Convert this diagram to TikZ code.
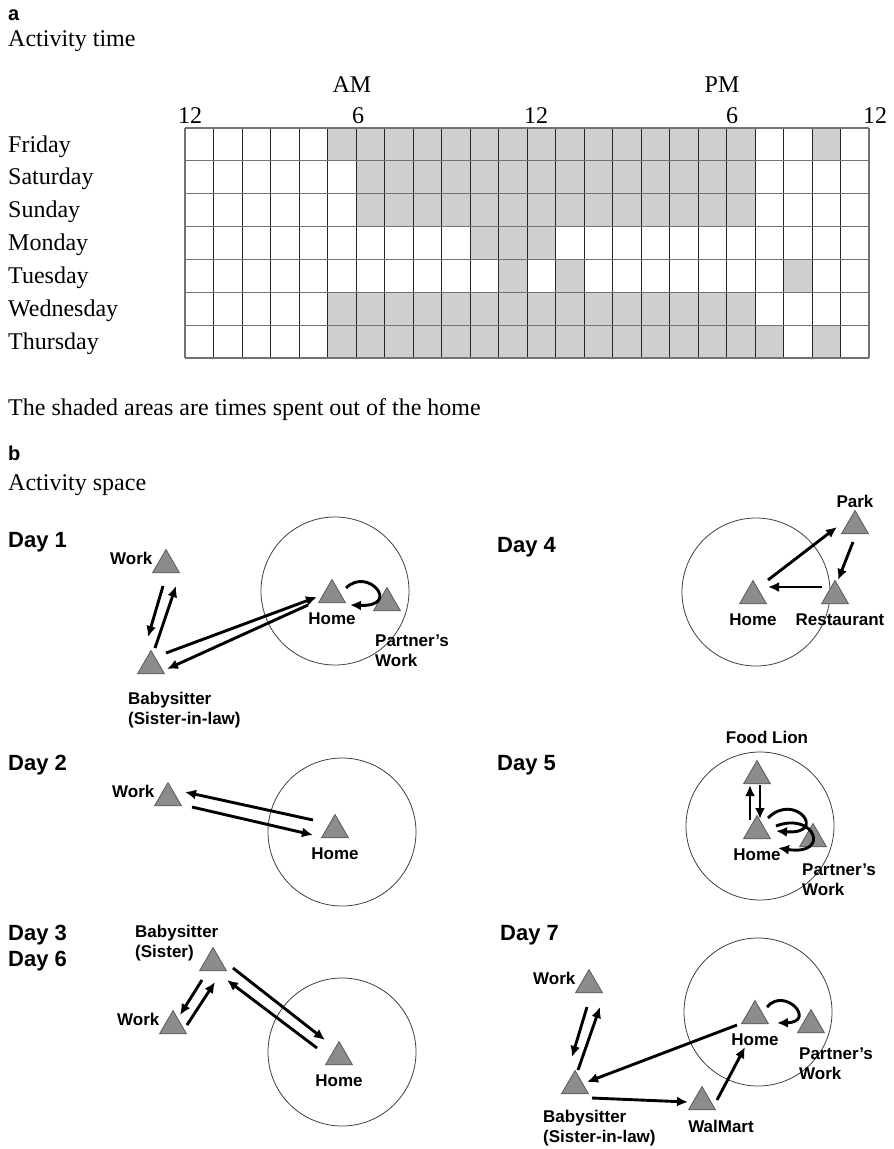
\documentclass[tikz,border=0pt]{standalone}
\usepackage{fontspec}
\setmainfont{Liberation Serif}
\setsansfont{Liberation Sans}
\usetikzlibrary{positioning,arrows.meta,shapes.geometric}

\begin{document}
\begin{tikzpicture}[
    x=1pt, y=-1pt,
    node distance=4pt,
    serif/.style={font=\fontsize{24}{28}\selectfont, inner sep=0pt},
    panel/.style={font=\sffamily\bfseries\fontsize{20}{24}\selectfont, inner sep=0pt},
    daytag/.style={font=\sffamily\bfseries\fontsize{22}{26}\selectfont, inner sep=0pt, align=left},
    lbl/.style={font=\sffamily\bfseries\fontsize{17}{20}\selectfont, inner sep=0pt, align=left},
    place/.style={
        regular polygon,
        regular polygon sides=3,
        draw=black!65,
        fill=black!45,
        minimum size=31pt,
        inner sep=0pt,
        line width=0.8pt
    },
    ring/.style={circle, draw=black!75, minimum size=148pt, inner sep=0pt, line width=0.8pt},
    trip/.style={
        -{Latex[length=11pt,width=10pt]},
        line width=2.9pt
    },
    busy/.style={fill=black!19},
    colline/.style={draw=black!85, line width=0.8pt},
    rowline/.style={draw=black!55, line width=1.2pt}
]

\path[use as bounding box, fill=white] (0,0) rectangle (894,1149);

% part a: activity time
\node[panel, anchor=base west] (pa) at (8,20) {a};
\node[serif, anchor=base west] (atime) at (8,46) {Activity time};
\node[serif, anchor=base] (am) at (352,92) {AM};
\node[serif, anchor=base] (pm) at (722,92) {PM};

\foreach \t/\x [count=\i] in {12/190, 6/358, 12/536, 6/732, 12/875}
    \node[serif, anchor=base] (tick\i) at (\x,123) {\t};

\foreach \r/\cols in {0/{5,...,19,22}, 1/{6,...,19}, 2/{6,...,19}, 3/{10,11,12},
                      4/{11,13,21}, 5/{5,...,19}, 6/{5,...,20,22}}
    \foreach \c in \cols
        \fill[busy] ({185+28.5*\c},{128+32.86*\r}) rectangle ++(28.5,32.86);

\foreach \c in {1,...,23}
    \draw[colline] ({185+28.5*\c},128) -- ++(0,230);
\foreach \r in {0,...,7}
    \draw[rowline] (185,{128+32.86*\r}) -- ++(684,0);
\draw[rowline] (185,128) -- ++(0,230) (869,128) -- ++(0,230);

\foreach \d [count=\i from 0] in {Friday,Saturday,Sunday,Monday,Tuesday,Wednesday,Thursday}
    \node[serif, anchor=base west] (row\i) at (8,{152+32.86*\i}) {\d};

\node[serif, anchor=base west] (note) at (8,415) {The shaded areas are times spent out of the home};

% part b: activity space
\node[panel, anchor=base west] (pb) at (8,460) {b};
\node[serif, anchor=base west] (aspace) at (8,490) {Activity space};

% Day 1
\node[daytag, anchor=west] (d1) at (8,542) {Day 1};
\node[ring] (c1) at (335,591) {};
\node[place] (w1) at (166,565) {};
\node[place] (b1) at (151,666) {};
\node[place] (h1) at (332,595) {};
\node[place] (p1) at (387,603) {};
\node[lbl, left=of w1, yshift=7pt] (w1l) {Work};
\node[lbl, below=9pt of h1] (h1l) {Home};
\node[lbl, anchor=north west] (b1l) at ([shift={(-23,26)}]b1.center) {Babysitter\\(Sister-in-law)};
\node[lbl, anchor=north west] (p1l) at ([shift={(-12,32)}]p1.center) {Partner’s\\Work};
\draw[trip] ([shift={(-3,21)}]w1.center) -- ([shift={(-3,-29)}]b1.center);
\draw[trip] ([shift={(4,-18)}]b1.center) -- ([shift={(10,21)}]w1.center);
\draw[trip] ([shift={(15,-13)}]b1.center) -- ([shift={(-15,2)}]h1.center);
\draw[trip] ([shift={(-24,10)}]h1.center) -- ([shift={(16,3)}]b1.center);
\draw[trip] ([shift={(14,-7)}]h1.center) .. controls ([shift={(36,-29)}]h1.center)
    and ([shift={(70,12)}]h1.center) .. ([shift={(18,10)}]h1.center);

% Day 2
\node[daytag, anchor=west] (d2) at (8,765) {Day 2};
\node[ring] (c2) at (342,832) {};
\node[place] (w2) at (168,798) {};
\node[place] (h2) at (335,830) {};
\node[lbl, left=of w2, yshift=7pt] (w2l) {Work};
\node[lbl, below=9pt of h2] (h2l) {Home};
\draw[trip] ([shift={(-22,-10)}]h2.center) -- ([shift={(17,-6)}]w2.center);
\draw[trip] ([shift={(24,9)}]w2.center) -- ([shift={(-22,5)}]h2.center);

% Day 3 and Day 6
\node[daytag, anchor=north west] (d36) at (8,925) {Day 3\\Day 6};
\node[ring] (c3) at (342,1052) {};
\node[place] (b3) at (213,963) {};
\node[place] (w3) at (173,1026) {};
\node[place] (h3) at (339,1057) {};
\node[lbl, anchor=north west] (b3l) at ([shift={(-78,-38)}]b3.center) {Babysitter\\(Sister)};
\node[lbl, left=of w3, yshift=7pt] (w3l) {Work};
\node[lbl, below=9pt of h3] (h3l) {Home};
\draw[trip] ([shift={(-11,17)}]b3.center) -- ([shift={(7,-11)}]w3.center);
\draw[trip] ([shift={(14,-1)}]w3.center) -- ([shift={(2,19)}]b3.center);
\draw[trip] ([shift={(20,5)}]b3.center) -- ([shift={(-14,-17)}]h3.center);
\draw[trip] ([shift={(-22,-9)}]h3.center) -- ([shift={(14,17)}]b3.center);

% Day 4
\node[daytag, anchor=west] (d4) at (497,547) {Day 4};
\node[ring] (c4) at (756,592) {};
\node[place] (h4) at (753,596) {};
\node[place] (r4) at (835,596) {};
\node[place] (k4) at (855,526) {};
\node[lbl, below=9pt of h4] (h4l) {Home};
\node[lbl, below=9pt of r4, xshift=5pt] (r4l) {Restaurant};
\node[lbl, above=2pt of k4] (k4l) {Park};
\draw[trip] ([shift={(15,-16)}]h4.center) -- ([shift={(-18,1)}]k4.center);
\draw[trip] ([shift={(-2,16)}]k4.center) -- ([shift={(3,-16)}]r4.center);
\draw[trip] ([shift={(-13,-9)}]r4.center) -- ([shift={(15,-9)}]h4.center);

% Day 5
\node[daytag, anchor=west] (d5) at (497,765) {Day 5};
\node[ring] (c5) at (760,826) {};
\node[place] (f5) at (757,776) {};
\node[place] (h5) at (757,831) {};
\node[place] (p5) at (813,839) {};
\node[lbl, above=16pt of f5, xshift=10pt] (f5l) {Food Lion};
\node[lbl, below=9pt of h5] (h5l) {Home};
\node[lbl, anchor=north west] (p5l) at ([shift={(-11,25)}]p5.center) {Partner’s\\Work};
\draw[trip] ([shift={(-7,-11)}]h5.center) -- ([shift={(-7,9)}]f5.center);
\draw[trip] ([shift={(3,9)}]f5.center) -- ([shift={(3,-12)}]h5.center);
\draw[trip] ([shift={(11,-13)}]h5.center) .. controls ([shift={(38,-40)}]h5.center)
    and ([shift={(72,4)}]h5.center) .. ([shift={(19,0)}]h5.center);
\draw[trip] ([shift={(19,-5)}]h5.center) .. controls ([shift={(58,-20)}]h5.center)
    and ([shift={(74,25)}]h5.center) .. ([shift={(21,17)}]h5.center);

% Day 7
\node[daytag, anchor=west] (d7) at (500,935) {Day 7};
\node[ring] (c7) at (758,1012) {};
\node[place] (w7) at (589,985) {};
\node[place] (b7) at (575,1086) {};
\node[place] (m7) at (702,1102) {};
\node[place] (h7) at (755,1016) {};
\node[place] (p7) at (811,1025) {};
\node[lbl, left=of w7, yshift=7pt] (w7l) {Work};
\node[lbl, anchor=north west] (b7l) at ([shift={(-32,24)}]b7.center) {Babysitter\\(Sister-in-law)};
\node[lbl, below=10pt of m7, xshift=19pt] (m7l) {WalMart};
\node[lbl, below=9pt of h7] (h7l) {Home};
\node[lbl, anchor=north west] (p7l) at ([shift={(-12,23)}]p7.center) {Partner’s\\Work};
\draw[trip] ([shift={(-2,22)}]w7.center) -- ([shift={(-3,-29)}]b7.center);
\draw[trip] ([shift={(3,-16)}]b7.center) -- ([shift={(11,22)}]w7.center);
\draw[trip] ([shift={(-18,9)}]h7.center) -- ([shift={(12,-4)}]b7.center);
\draw[trip] ([shift={(17,12)}]b7.center) -- ([shift={(-14,0)}]m7.center);
\draw[trip] ([shift={(15,-2)}]m7.center) -- ([shift={(-10,31)}]h7.center);
\draw[trip] ([shift={(12,-9)}]h7.center) .. controls ([shift={(30,-30)}]h7.center)
    and ([shift={(62,6)}]h7.center) .. ([shift={(22,7)}]h7.center);

\end{tikzpicture}
\end{document}
